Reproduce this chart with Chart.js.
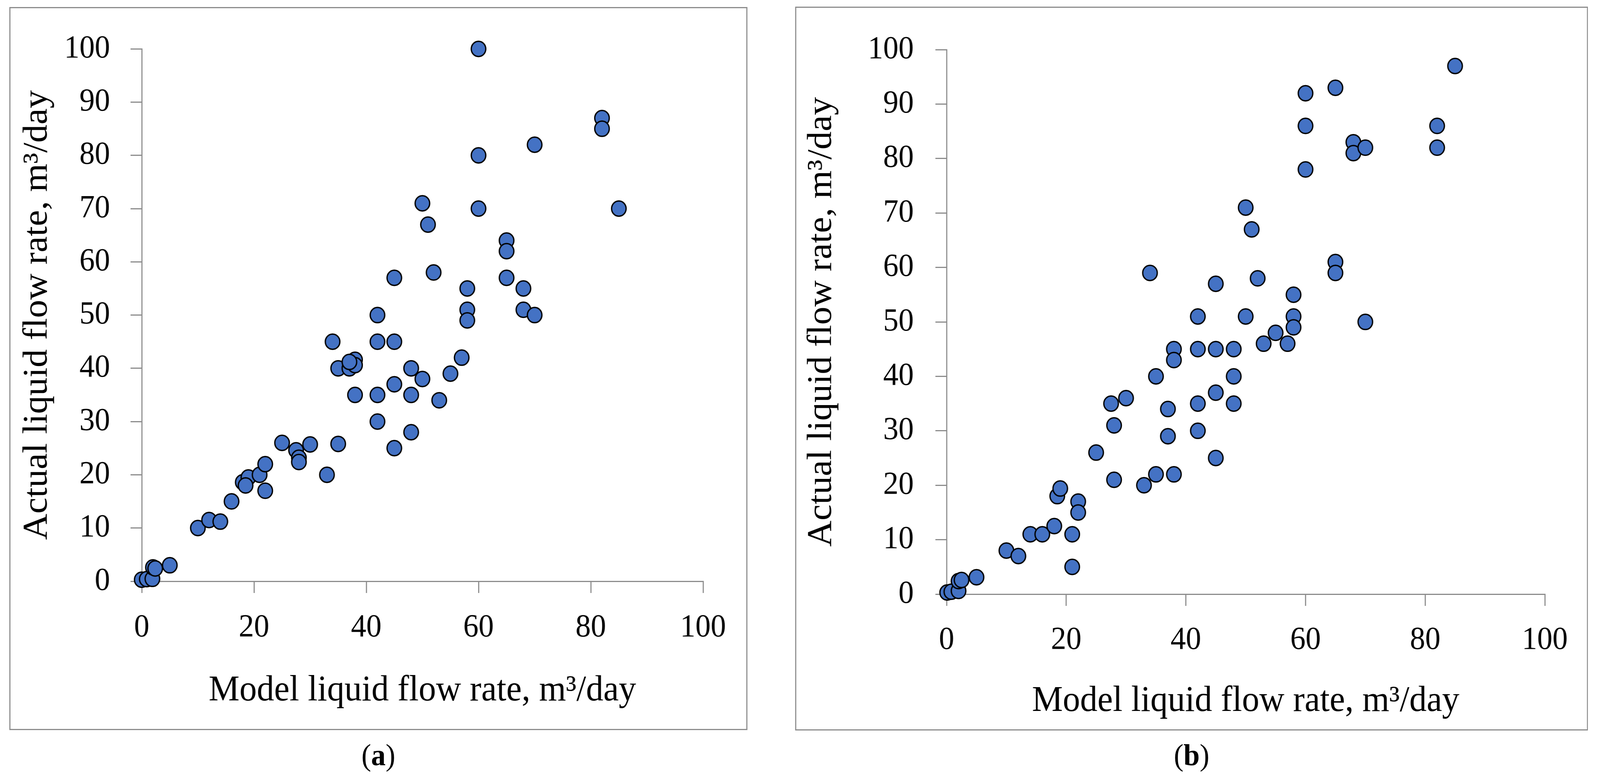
<!DOCTYPE html>
<html>
<head>
<meta charset="utf-8">
<script src="https://cdn.jsdelivr.net/npm/chart.js@4.4.0/dist/chart.umd.min.js"></script>
<style>
  html, body { margin: 0; padding: 0; background: #ffffff; overflow: hidden; }
  #stage { width: 4290px; height: 2007px; position: absolute; left: 0; top: 0; transform-origin: 0 0; font-family: "Liberation Serif", serif; }
  .panel { position: absolute; border: 3px solid #8c8c8c; box-sizing: border-box; background: #ffffff; }
  .panel canvas { position: absolute; left: 0; top: 0; }
  .caption { position: absolute; font-size: 78px; line-height: 78px; text-align: center; color: #000000; }
</style>
</head>
<body>
<div id="stage">
  <div class="panel" style="left:25px; top:18px; width:1979px; height:1851px;">
    <canvas id="chartA" width="1973" height="1845"></canvas>
  </div>
  <div class="caption" style="left:25px; top:1894px; width:1979px;">(<b>a</b>)</div>

  <div class="panel" style="left:2132px; top:17px; width:2126px; height:1853px;">
    <canvas id="chartB" width="2120" height="1847"></canvas>
  </div>
  <div class="caption" style="left:2132px; top:1894px; width:2126px;">(<b>b</b>)</div>
</div>

<script>
// axis range and steps
const axisMin = 0;
const axisMax = 100;
const xStep = 20;
const yStep = 10;

const xTitle = "Model liquid flow rate, m\u00B3/day";
const yTitle = "Actual liquid flow rate, m\u00B3/day";

// panel (a)
const modelA = [0, 0.9, 1.9, 2.0, 2.4, 5, 10, 12, 14, 16,
                18, 19, 18.5, 21, 22, 22, 25, 27.5, 28, 28,
                30, 33, 35, 34, 35, 37, 38, 38, 37, 38,
                42, 42, 45, 42, 42, 45, 45, 48, 48, 48,
                50, 53, 55, 57, 58, 58, 58, 45, 52, 50,
                51, 60, 60, 60, 65, 65, 65, 68, 68, 70,
                70, 82, 82, 85];
const actualA = [0.3, 0.4, 0.45, 2.6, 2.4, 3, 10, 11.5, 11.2, 15,
                 18.6, 19.5, 18, 20, 22, 17, 26, 24.6, 23.2, 22.4,
                 25.7, 20, 25.8, 45, 40, 40, 41.6, 40.6, 41.2, 35,
                 50, 45, 45, 35, 30, 37, 25, 40, 35, 28,
                 38, 34, 39, 42, 55, 51, 49, 57, 58, 71,
                 67, 100, 80, 70, 64, 62, 57, 55, 51, 50,
                 82, 87, 85, 70];

// panel (b)
const modelB = [0.1, 0.8, 2.0, 2.0, 2.5, 5, 10, 12, 14, 16,
                18, 18.5, 19, 21, 21, 22, 22, 25, 27.5, 28,
                28, 30, 33, 34, 35, 35, 37, 37, 38, 38,
                38, 42, 42, 42, 42, 45, 45, 45, 45, 48,
                48, 48, 50, 50, 51, 52, 53, 55, 57, 58,
                58, 58, 60, 60, 60, 65, 65, 65, 68, 68,
                70, 70, 82, 82, 85];
const actualB = [0.3, 0.45, 0.6, 2.4, 2.6, 3.1, 8, 7, 11, 11,
                 12.5, 18, 19.4, 11, 5, 17, 15, 26, 35, 31,
                 21, 36, 20, 59, 40, 22, 34, 29, 45, 43,
                 22, 51, 45, 35, 30, 57, 45, 37, 25, 45,
                 40, 35, 71, 51, 67, 58, 46, 48, 46, 55,
                 51, 49, 92, 86, 78, 93, 61, 59, 83, 81,
                 82, 50, 86, 82, 97];

// the viewport may be narrower than 4290, so stretch the stage onto it
const sx = window.innerWidth / 4290;
const sy = window.innerHeight / 2007;
document.getElementById("stage").style.transform = "scale(" + sx + "," + sy + ")";

function toPoints(xs, ys) {
    return xs.map((x, i) => ({ x: x, y: ys[i] }));
}

Chart.defaults.font.family = "'Liberation Serif', serif";
Chart.defaults.color = "#000000";

function makeChart(id, xs, ys, L) {
    return new Chart(document.getElementById(id), {
        type: "scatter",
        data: {
            datasets: [{
                data: toPoints(xs, ys),
                pointRadius: 19.5,
                pointHoverRadius: 19.5,
                pointBorderWidth: 3.5,
                pointBackgroundColor: "#4472C4",
                pointBorderColor: "#000000",
                clip: false
            }]
        },
        options: {
            responsive: false,
            animation: false,
            devicePixelRatio: 1,
            layout: {
                padding: { top: L.top, right: L.right, bottom: 0, left: 0 }
            },
            plugins: {
                legend: { display: false },
                tooltip: { enabled: false }
            },
            scales: {
                x: {
                    type: "linear",
                    min: axisMin,
                    max: axisMax,
                    afterFit: s => { s.height = L.xHeight; },
                    ticks: {
                        stepSize: xStep,
                        padding: L.xTickPad,
                        font: { size: 82 },
                        color: "#000000",
                        maxRotation: 0
                    },
                    grid: {
                        drawOnChartArea: false,
                        drawTicks: true,
                        tickLength: 30,
                        color: "#8c8c8c",
                        lineWidth: 3
                    },
                    border: { display: true, color: "#8c8c8c", width: 3 },
                    title: {
                        display: true,
                        text: xTitle,
                        font: { size: 93 },
                        color: "#000000",
                        padding: { top: 0, bottom: L.xTitlePad }
                    }
                },
                y: {
                    type: "linear",
                    min: axisMin,
                    max: axisMax,
                    afterFit: s => { s.width = L.yWidth; },
                    ticks: {
                        stepSize: yStep,
                        padding: L.yTickPad,
                        font: { size: 82 },
                        color: "#000000"
                    },
                    grid: {
                        drawOnChartArea: false,
                        drawTicks: true,
                        tickLength: 30,
                        color: "#8c8c8c",
                        lineWidth: 3
                    },
                    border: { display: true, color: "#8c8c8c", width: 3 },
                    title: {
                        display: true,
                        text: yTitle,
                        font: { size: 93 },
                        color: "#000000",
                        padding: { top: L.yTitlePad, bottom: 0 }
                    }
                }
            }
        }
    });
}

makeChart("chartA", modelA, actualA, {
    top: 54, right: 116, xHeight: 378, yWidth: 352,
    xTickPad: 40, yTickPad: 55, xTitlePad: 42, yTitlePad: 17
});

makeChart("chartB", modelB, actualB, {
    top: 52, right: 113, xHeight: 346, yWidth: 403,
    xTickPad: 39, yTickPad: 58, xTitlePad: 16, yTitlePad: 13
});
</script>
</body>
</html>
